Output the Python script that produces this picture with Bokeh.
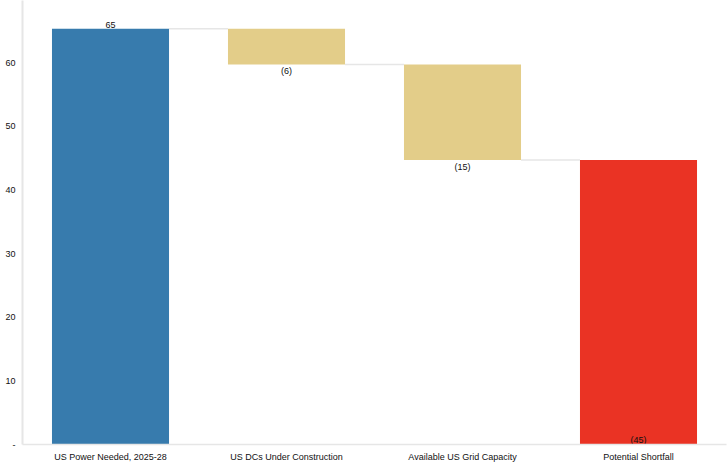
from bokeh.plotting import figure
from bokeh.models import ColumnDataSource, Range1d, FixedTicker
from bokeh.core.properties import value
from bokeh.embed import file_html
from bokeh.resources import INLINE

# ---- data ----
categories = ["US Power Needed, 2025-28", "US DCs Under Construction",
              "Available US Grid Capacity", "Potential Shortfall"]
changes = [65.3, -5.6, -15.0, -44.7]
kinds = ["total", "delta", "delta", "result"]
value_labels = ["65", "(6)", "(15)", "(45)"]
colors = ["#377bad", "#e3cd89", "#e3cd89", "#ea3324"]
y_ticks = [0, 10, 20, 30, 40, 50, 60, 70]
y_tick_labels = ["-", "10", "20", "30", "40", "50", "60", "70"]

FONT = "Liberation Sans"
BAR_W = 0.665

# waterfall geometry from data
xs, bottoms, tops = [], [], []
running = 0.0
for i, (c, k) in enumerate(zip(changes, kinds)):
    xs.append(i + 0.5)
    if k == "total":
        bottoms.append(0.0); tops.append(c); running = c
    elif k == "delta":
        new = running + c
        bottoms.append(new); tops.append(running); running = new
    else:
        bottoms.append(0.0); tops.append(running)

src = ColumnDataSource(dict(x=xs, bottom=bottoms, top=tops, color=colors))

p = figure(width=728, height=464, output_backend="svg", toolbar_location=None,
           x_range=Range1d(0, 4), y_range=Range1d(0, 69.75),
           min_border_left=22, min_border_right=2, min_border_top=0, min_border_bottom=19)
p.outline_line_color = None
p.xgrid.visible = False
p.ygrid.visible = False
p.background_fill_color = "white"

p.vbar(x="x", width=BAR_W, bottom="bottom", top="top", fill_color="color",
       line_color=None, source=src)

# connectors
cx0, cx1, cy = [], [], []
for i in range(len(xs) - 1):
    level = tops[i] if kinds[i] == "total" else bottoms[i]
    cx0.append(xs[i] + BAR_W / 2)
    cx1.append(xs[i + 1] - BAR_W / 2)
    cy.append(level)
p.segment(x0=cx0, y0=cy, x1=cx1, y1=cy, line_color="#e6e6e6", line_width=1.5)

# value labels
lx, ly, lbase, loff = [], [], [], []
for i, k in enumerate(kinds):
    lx.append(xs[i])
    if k == "total":
        ly.append(tops[i]); lbase.append("bottom"); loff.append(-1)
    elif k == "delta":
        ly.append(bottoms[i]); lbase.append("top"); loff.append(2)
    else:
        ly.append(bottoms[i]); lbase.append("bottom"); loff.append(0)
lsrc = ColumnDataSource(dict(x=lx, y=ly, t=value_labels, b=lbase, o=loff))
p.text(x="x", y="y", text="t", text_baseline="b", y_offset="o", text_align="center",
       text_font=value(FONT), text_font_size="9px", text_color="#111111", source=lsrc)

# axes
for ax in (p.xaxis, p.yaxis):
    ax.major_tick_line_color = None
    ax.minor_tick_line_color = None
    ax.major_tick_out = 0
    ax.major_tick_in = 0
    ax.minor_tick_out = 0
    ax.minor_tick_in = 0
    ax.axis_line_color = "#e6e6e6"
    ax.major_label_text_font = FONT
    ax.major_label_text_font_size = "9px"
    ax.major_label_text_color = "#111111"

p.yaxis.ticker = FixedTicker(ticks=y_ticks)
p.yaxis.major_label_overrides = {t: l for t, l in zip(y_ticks, y_tick_labels)}
p.yaxis.axis_line_width = 2
p.yaxis.major_label_standoff = 7

p.xaxis.ticker = FixedTicker(ticks=xs)
p.xaxis.major_label_overrides = {x: c for x, c in zip(xs, categories)}
p.xaxis.axis_line_width = 1.5
p.xaxis.major_label_standoff = 7

open("out.html", "w").write(file_html(p, INLINE))
